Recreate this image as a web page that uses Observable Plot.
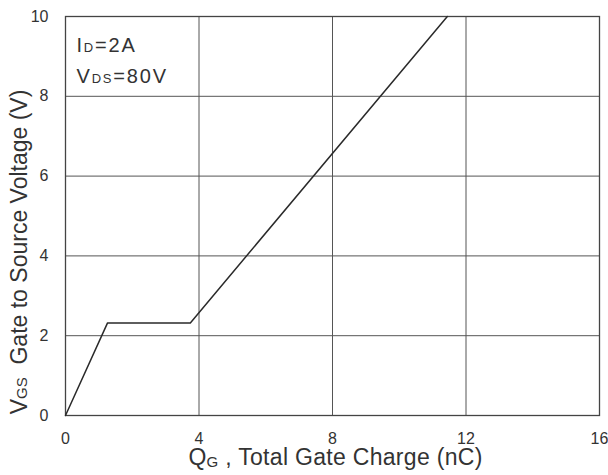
<!DOCTYPE html>
<html>
<head>
<meta charset="utf-8">
<script src="https://cdn.jsdelivr.net/npm/d3@7"></script>
<script src="https://cdn.jsdelivr.net/npm/@observablehq/plot@0.6"></script>
<style>
  html, body { margin: 0; padding: 0; background: #fff; }
  svg text { font-family: "Liberation Sans", Arial, sans-serif; }
</style>
</head>
<body>
<div id="chart"></div>
<script>
// Gate charge curve
const qg = [0, 1.26, 3.74, 11.44];
const vgs = [0, 2.32, 2.32, 10];
const xTicks = [0, 4, 8, 12, 16];
const yTicks = [0, 2, 4, 6, 8, 10];
const xGrid = [4, 8, 12];
const yGrid = [2, 4, 6, 8];
// annotations: [main, subscript, rest]
const annoParts = [["I", "D", "=2A"], ["V", "DS", "=80V"]];
const annoX = [0.33, 0.33];
const annoY = [9.28, 8.5];
const xTitleParts = ["Q", "G", " , Total Gate Charge (nC)"];
const yTitleParts = ["V", "GS", "  Gate to Source Voltage (V)"];

const curve = qg.map((q, i) => ({q, v: vgs[i]}));
const annos = annoParts.map((p, i) => ({x: annoX[i], y: annoY[i], t: p.join("")}));

const ink = "#333";
const plot = Plot.plot({
  width: 608,
  height: 475,
  marginLeft: 65,
  marginRight: 9,
  marginTop: 16,
  marginBottom: 60,
  style: {fontFamily: "'Liberation Sans', Arial, sans-serif", background: "#fff"},
  x: {domain: [0, 16], axis: null},
  y: {domain: [0, 10], axis: null},
  marks: [
    Plot.ruleX(xGrid, {stroke: "#555", strokeWidth: 1}),
    Plot.ruleY(yGrid, {stroke: "#555", strokeWidth: 1}),
    Plot.frame({stroke: "#444", strokeWidth: 1.3}),
    // tick labels drawn through the x / y scales
    Plot.text(xTicks, {x: d => d, frameAnchor: "bottom", dy: 28.5, text: d => String(d), fontSize: 16, fill: ink}),
    Plot.text(yTicks, {y: d => d, frameAnchor: "left", textAnchor: "end", dx: -17, text: d => String(d), fontSize: 16, fill: ink}),
    Plot.line(curve, {x: "q", y: "v", stroke: "#2a2a2a", strokeWidth: 1.5}),
    Plot.text(annos, {x: "x", y: "y", text: "t", textAnchor: "start", fontSize: 20, fill: ink, className: "anno"}),
    Plot.text([xTitleParts.join("")], {frameAnchor: "bottom", textAnchor: "middle", dx: 3, dy: 49, fontSize: 23, fill: ink, className: "xtitle"}),
    Plot.text([yTitleParts.join("")], {frameAnchor: "left", textAnchor: "middle", dx: -46, dy: 36, rotate: -90, fontSize: 23, fill: ink, className: "ytitle"})
  ]
});

function subscript(el, parts, subSize, subShift) {
  const t = d3.select(el);
  t.text(null);
  t.append("tspan").text(parts[0]);
  t.append("tspan").attr("font-size", subSize).attr("dy", subShift).text(parts[1]);
  t.append("tspan").attr("dy", -subShift).style("white-space", "pre").text(parts[2]);
}
const svg = d3.select(plot);
svg.selectAll(".anno text").each(function(d, i) { subscript(this, annoParts[i], 13, 0); }).attr("letter-spacing", 1.8);
svg.selectAll(".xtitle text").each(function() { subscript(this, xTitleParts, 15, 2); }).attr("letter-spacing", 0.3);
svg.selectAll(".ytitle text").each(function() { subscript(this, yTitleParts, 15, 0); });
svg.selectAll("text").attr("xml:space", "preserve");

document.getElementById("chart").appendChild(plot);
</script>
</body>
</html>
